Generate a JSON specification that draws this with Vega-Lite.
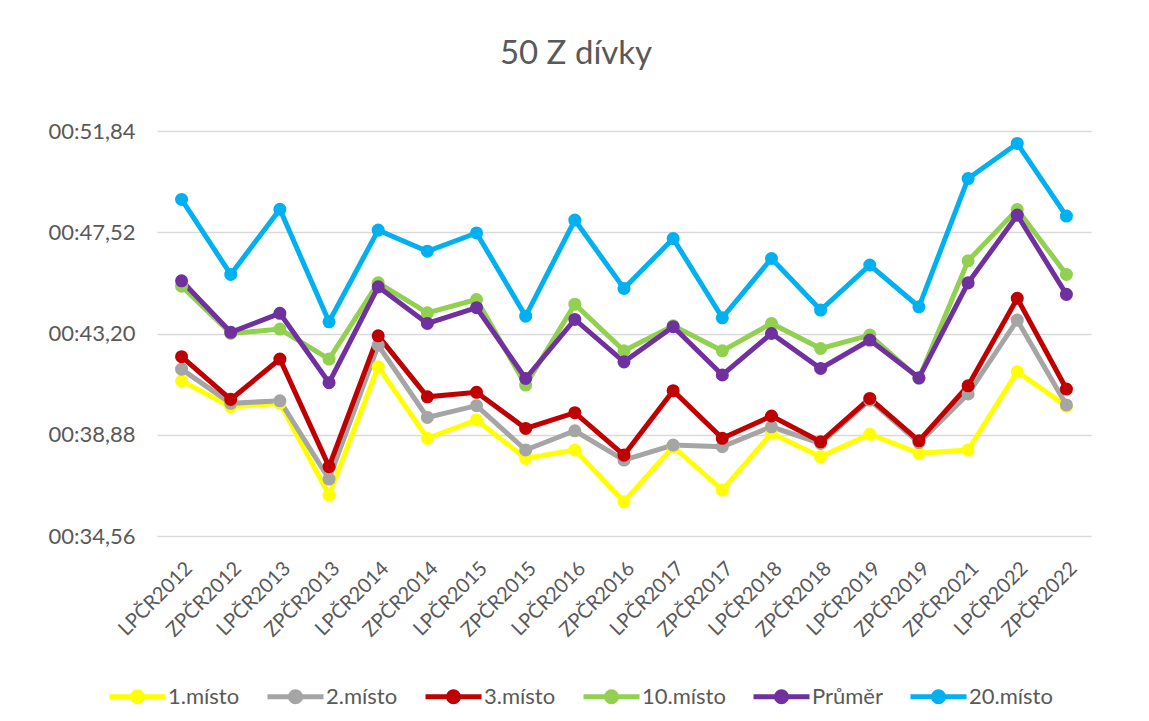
{
  "$schema": "https://vega.github.io/schema/vega-lite/v6.json",
  "width": 934,
  "height": 405,
  "autosize": {"type": "none"},
  "padding": {"left": 157, "top": 131, "right": 58, "bottom": 185},
  "background": "white",
  "title": {"text": "50 Z dívky", "fontSize": 33, "font": "Lato", "fontWeight": "normal", "color": "#595959", "dx": -48, "offset": 49, "anchor": "middle"},
  "datasets": {
    "d": [
      {"cat": "LPČR2012", "s": "1.místo", "v": 41.18}, {"cat": "ZPČR2012", "s": "1.místo", "v": 40.07}, {"cat": "LPČR2013", "s": "1.místo", "v": 40.22}, {"cat": "ZPČR2013", "s": "1.místo", "v": 36.31}, {"cat": "LPČR2014", "s": "1.místo", "v": 41.78}, {"cat": "ZPČR2014", "s": "1.místo", "v": 38.73}, {"cat": "LPČR2015", "s": "1.místo", "v": 39.51}, {"cat": "ZPČR2015", "s": "1.místo", "v": 37.87}, {"cat": "LPČR2016", "s": "1.místo", "v": 38.23}, {"cat": "ZPČR2016", "s": "1.místo", "v": 36.02}, {"cat": "LPČR2017", "s": "1.místo", "v": 38.37}, {"cat": "ZPČR2017", "s": "1.místo", "v": 36.52}, {"cat": "LPČR2018", "s": "1.místo", "v": 38.94}, {"cat": "ZPČR2018", "s": "1.místo", "v": 37.94}, {"cat": "LPČR2019", "s": "1.místo", "v": 38.90}, {"cat": "ZPČR2019", "s": "1.místo", "v": 38.09}, {"cat": "ZPČR2021", "s": "1.místo", "v": 38.23}, {"cat": "LPČR2022", "s": "1.místo", "v": 41.57}, {"cat": "ZPČR2022", "s": "1.místo", "v": 40.10},
      {"cat": "LPČR2012", "s": "2.místo", "v": 41.68}, {"cat": "ZPČR2012", "s": "2.místo", "v": 40.22}, {"cat": "LPČR2013", "s": "2.místo", "v": 40.33}, {"cat": "ZPČR2013", "s": "2.místo", "v": 36.99}, {"cat": "LPČR2014", "s": "2.místo", "v": 42.70}, {"cat": "ZPČR2014", "s": "2.místo", "v": 39.62}, {"cat": "LPČR2015", "s": "2.místo", "v": 40.12}, {"cat": "ZPČR2015", "s": "2.místo", "v": 38.23}, {"cat": "LPČR2016", "s": "2.místo", "v": 39.05}, {"cat": "ZPČR2016", "s": "2.místo", "v": 37.80}, {"cat": "LPČR2017", "s": "2.místo", "v": 38.44}, {"cat": "ZPČR2017", "s": "2.místo", "v": 38.37}, {"cat": "LPČR2018", "s": "2.místo", "v": 39.22}, {"cat": "ZPČR2018", "s": "2.místo", "v": 38.51}, {"cat": "LPČR2019", "s": "2.místo", "v": 40.36}, {"cat": "ZPČR2019", "s": "2.místo", "v": 38.54}, {"cat": "ZPČR2021", "s": "2.místo", "v": 40.62}, {"cat": "LPČR2022", "s": "2.místo", "v": 43.77}, {"cat": "ZPČR2022", "s": "2.místo", "v": 40.15},
      {"cat": "LPČR2012", "s": "3.místo", "v": 42.21}, {"cat": "ZPČR2012", "s": "3.místo", "v": 40.39}, {"cat": "LPČR2013", "s": "3.místo", "v": 42.11}, {"cat": "ZPČR2013", "s": "3.místo", "v": 37.52}, {"cat": "LPČR2014", "s": "3.místo", "v": 43.10}, {"cat": "ZPČR2014", "s": "3.místo", "v": 40.50}, {"cat": "LPČR2015", "s": "3.místo", "v": 40.69}, {"cat": "ZPČR2015", "s": "3.místo", "v": 39.15}, {"cat": "LPČR2016", "s": "3.místo", "v": 39.82}, {"cat": "ZPČR2016", "s": "3.místo", "v": 38.01}, {"cat": "LPČR2017", "s": "3.místo", "v": 40.76}, {"cat": "ZPČR2017", "s": "3.místo", "v": 38.73}, {"cat": "LPČR2018", "s": "3.místo", "v": 39.68}, {"cat": "ZPČR2018", "s": "3.místo", "v": 38.58}, {"cat": "LPČR2019", "s": "3.místo", "v": 40.43}, {"cat": "ZPČR2019", "s": "3.místo", "v": 38.62}, {"cat": "ZPČR2021", "s": "3.místo", "v": 40.97}, {"cat": "LPČR2022", "s": "3.místo", "v": 44.70}, {"cat": "ZPČR2022", "s": "3.místo", "v": 40.83},
      {"cat": "LPČR2012", "s": "10.místo", "v": 45.22}, {"cat": "ZPČR2012", "s": "10.místo", "v": 43.20}, {"cat": "LPČR2013", "s": "10.místo", "v": 43.39}, {"cat": "ZPČR2013", "s": "10.místo", "v": 42.11}, {"cat": "LPČR2014", "s": "10.místo", "v": 45.36}, {"cat": "ZPČR2014", "s": "10.místo", "v": 44.08}, {"cat": "LPČR2015", "s": "10.místo", "v": 44.65}, {"cat": "ZPČR2015", "s": "10.místo", "v": 41.00}, {"cat": "LPČR2016", "s": "10.místo", "v": 44.45}, {"cat": "ZPČR2016", "s": "10.místo", "v": 42.46}, {"cat": "LPČR2017", "s": "10.místo", "v": 43.53}, {"cat": "ZPČR2017", "s": "10.místo", "v": 42.46}, {"cat": "LPČR2018", "s": "10.místo", "v": 43.63}, {"cat": "ZPČR2018", "s": "10.místo", "v": 42.56}, {"cat": "LPČR2019", "s": "10.místo", "v": 43.13}, {"cat": "ZPČR2019", "s": "10.místo", "v": 41.28}, {"cat": "ZPČR2021", "s": "10.místo", "v": 46.30}, {"cat": "LPČR2022", "s": "10.místo", "v": 48.49}, {"cat": "ZPČR2022", "s": "10.místo", "v": 45.72},
      {"cat": "LPČR2012", "s": "Průměr", "v": 45.45}, {"cat": "ZPČR2012", "s": "Průměr", "v": 43.25}, {"cat": "LPČR2013", "s": "Průměr", "v": 44.06}, {"cat": "ZPČR2013", "s": "Průměr", "v": 41.10}, {"cat": "LPČR2014", "s": "Průměr", "v": 45.19}, {"cat": "ZPČR2014", "s": "Průměr", "v": 43.63}, {"cat": "LPČR2015", "s": "Průměr", "v": 44.30}, {"cat": "ZPČR2015", "s": "Průměr", "v": 41.28}, {"cat": "LPČR2016", "s": "Průměr", "v": 43.80}, {"cat": "ZPČR2016", "s": "Průměr", "v": 41.99}, {"cat": "LPČR2017", "s": "Průměr", "v": 43.49}, {"cat": "ZPČR2017", "s": "Průměr", "v": 41.43}, {"cat": "LPČR2018", "s": "Průměr", "v": 43.20}, {"cat": "ZPČR2018", "s": "Průměr", "v": 41.71}, {"cat": "LPČR2019", "s": "Průměr", "v": 42.92}, {"cat": "ZPČR2019", "s": "Průměr", "v": 41.31}, {"cat": "ZPČR2021", "s": "Průměr", "v": 45.36}, {"cat": "LPČR2022", "s": "Průměr", "v": 48.25}, {"cat": "ZPČR2022", "s": "Průměr", "v": 44.87},
      {"cat": "LPČR2012", "s": "20.místo", "v": 48.92}, {"cat": "ZPČR2012", "s": "20.místo", "v": 45.72}, {"cat": "LPČR2013", "s": "20.místo", "v": 48.50}, {"cat": "ZPČR2013", "s": "20.místo", "v": 43.70}, {"cat": "LPČR2014", "s": "20.místo", "v": 47.61}, {"cat": "ZPČR2014", "s": "20.místo", "v": 46.71}, {"cat": "LPČR2015", "s": "20.místo", "v": 47.49}, {"cat": "ZPČR2015", "s": "20.místo", "v": 43.94}, {"cat": "LPČR2016", "s": "20.místo", "v": 48.04}, {"cat": "ZPČR2016", "s": "20.místo", "v": 45.12}, {"cat": "LPČR2017", "s": "20.místo", "v": 47.25}, {"cat": "ZPČR2017", "s": "20.místo", "v": 43.87}, {"cat": "LPČR2018", "s": "20.místo", "v": 46.40}, {"cat": "ZPČR2018", "s": "20.místo", "v": 44.20}, {"cat": "LPČR2019", "s": "20.místo", "v": 46.12}, {"cat": "ZPČR2019", "s": "20.místo", "v": 44.34}, {"cat": "ZPČR2021", "s": "20.místo", "v": 49.81}, {"cat": "LPČR2022", "s": "20.místo", "v": 51.31}, {"cat": "ZPČR2022", "s": "20.místo", "v": 48.21}
    ]
  },
  "data": {"name": "d"},
  "encoding": {
    "x": {
      "field": "cat", "type": "nominal",
      "sort": ["LPČR2012", "ZPČR2012", "LPČR2013", "ZPČR2013", "LPČR2014", "ZPČR2014", "LPČR2015", "ZPČR2015", "LPČR2016", "ZPČR2016", "LPČR2017", "ZPČR2017", "LPČR2018", "ZPČR2018", "LPČR2019", "ZPČR2019", "ZPČR2021", "LPČR2022", "ZPČR2022"],
      "scale": {"type": "point", "padding": 0.5},
      "axis": {"title": null, "labelAngle": -45, "domain": false, "ticks": false, "grid": false, "labelFontSize": 20, "labelFont": "Lato", "labelColor": "#595959", "labelPadding": 22}
    },
    "y": {
      "field": "v", "type": "quantitative",
      "scale": {"domain": [34.56, 51.84], "zero": false, "nice": false},
      "axis": {"title": null, "values": [34.56, 38.88, 43.2, 47.52, 51.84], "labelExpr": "'00:' + replace(format(datum.value, '.2f'), '.', ',')", "domain": false, "ticks": false, "gridColor": "#D9D9D9", "gridWidth": 1.5, "labelFontSize": 22, "labelFont": "Lato", "labelColor": "#595959", "labelPadding": 22}
    },
    "color": {
      "field": "s", "type": "nominal",
      "scale": {"domain": ["1.místo", "2.místo", "3.místo", "10.místo", "Průměr", "20.místo"], "range": ["#FFFF00", "#A5A5A5", "#C00000", "#92D050", "#7030A0", "#00B0F0"]},
      "legend": {
        "title": null, "orient": "none", "direction": "horizontal", "columns": 6, "legendX": -50, "legendY": 535, "padding": 0,
        "symbolType": "M-1,0L1,0M-0.18,0A0.18,0.18 0 1,0 0.18,0A0.18,0.18 0 1,0 -0.18,0Z",
        "symbolSize": 3136, "symbolStrokeWidth": 5, "symbolOpacity": 1,
        "labelFontSize": 22, "labelFont": "Lato", "labelColor": "#595959", "labelOffset": 0, "columnPadding": 17,
        "encode": {"symbols": {"update": {"fill": {"scale": "color", "field": "value"}, "stroke": {"scale": "color", "field": "value"}}}}
      }
    }
  },
  "layer": [
    {"mark": {"type": "line", "strokeWidth": 5}},
    {"mark": {"type": "point", "filled": true, "size": 170, "opacity": 1}}
  ],
  "config": {"view": {"stroke": null}, "font": "Lato"}
}
